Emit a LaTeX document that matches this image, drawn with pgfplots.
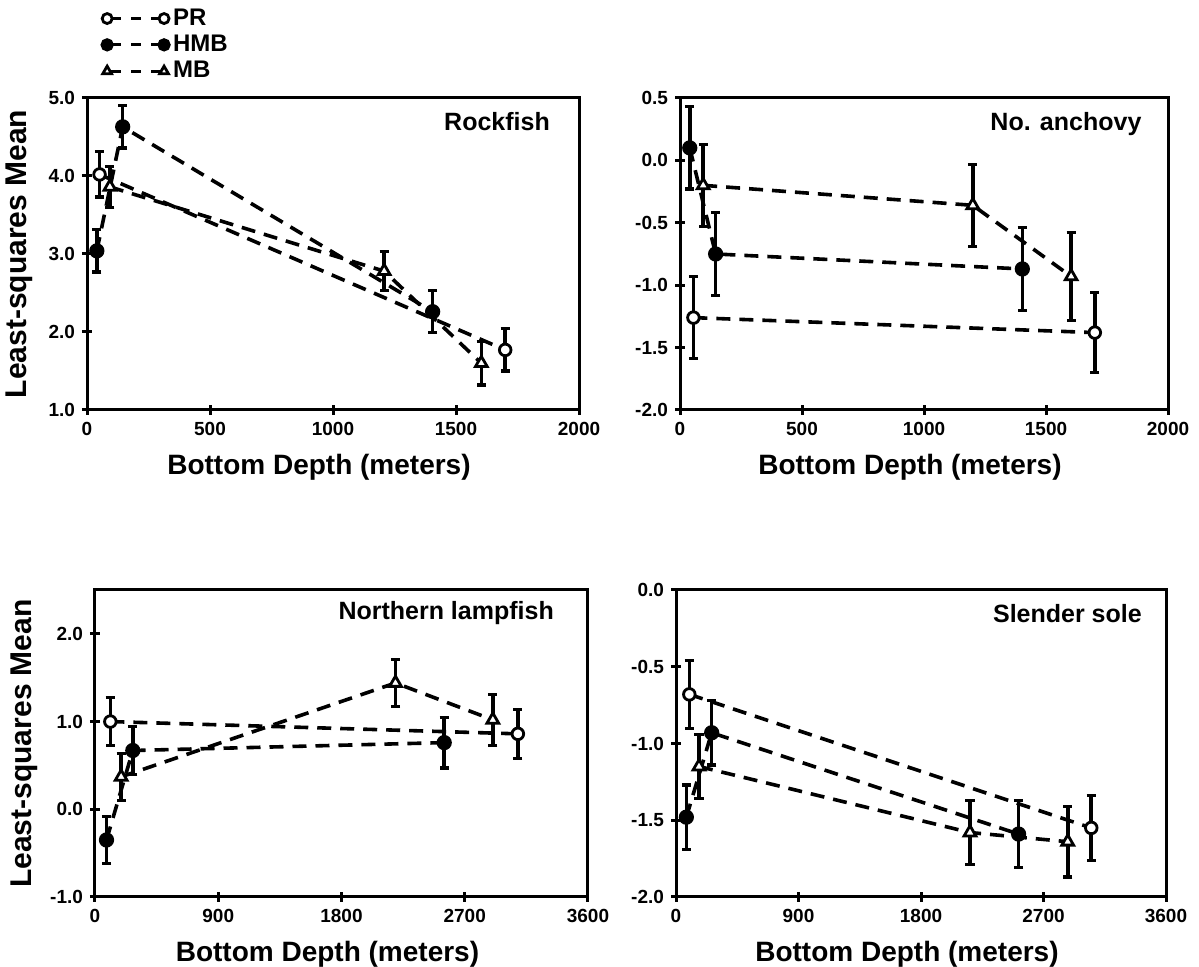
\documentclass[border=0pt]{standalone}
\usepackage{fontspec}
\setmainfont{Liberation Sans}
\usepackage{pgfplots}
\usepackage{pgfplotstable}
\pgfplotsset{compat=1.18}

% Rockfish
\pgfplotstableread{
x y e
51 4.02 0.29
1700 1.77 0.27
}\rfPR
\pgfplotstableread{
x y e
40 3.04 0.27
145 4.63 0.27
1405 2.26 0.27
}\rfHMB
\pgfplotstableread{
x y e
93 3.86 0.26
1208 2.78 0.25
1603 1.60 0.28
}\rfMB
% No. anchovy
\pgfplotstableread{
x y e
55 -1.26 0.33
1700 -1.38 0.32
}\naPR
\pgfplotstableread{
x y e
40 0.10 0.33
146 -0.75 0.33
1403 -0.87 0.33
}\naHMB
\pgfplotstableread{
x y e
95 -0.20 0.33
1200 -0.36 0.33
1603 -0.93 0.35
}\naMB
% Northern lampfish
\pgfplotstableread{
x y e
112 1.00 0.27
3088 0.86 0.28
}\nlPR
\pgfplotstableread{
x y e
84 -0.35 0.27
276 0.67 0.27
2550 0.76 0.29
}\nlHMB
\pgfplotstableread{
x y e
191 0.37 0.27
2194 1.44 0.27
2905 1.02 0.29
}\nlMB
% Slender sole
\pgfplotstableread{
x y e
98 -0.68 0.22
3051 -1.55 0.21
}\ssPR
\pgfplotstableread{
x y e
76 -1.48 0.21
262 -0.93 0.21
2517 -1.59 0.22
}\ssHMB
\pgfplotstableread{
x y e
169 -1.15 0.21
2160 -1.58 0.21
2878 -1.64 0.23
}\ssMB

\pgfplotsset{
  panel/.style={
    scale only axis, anchor=south west,
    axis line style={line width=1.5pt},
    xtick pos=bottom, ytick pos=left, tick align=center,
    major tick length=5pt,
    every tick/.style={line width=1.5pt, black},
    tick label style={font=\fontsize{9.5}{10}\bfseries},
    xlabel style={font=\fontsize{14}{16}\bfseries, yshift=-2.5pt, xshift=-7pt},
    ylabel style={font=\fontsize{15}{17}\bfseries,
      at={(axis description cs:-0.138,0.5)}, anchor=center},
    /pgf/number format/assume math mode=true,
    /pgf/number format/1000 sep={},
    yticklabel style={/pgf/number format/.cd, fixed, fixed zerofill, precision=1},
    xlabel={Bottom Depth (meters)},
  },
  ser/.style={black, line width=1.8pt, dash pattern=on 7pt off 4.5pt,
    mark options={solid, line width=1.4pt}, mark size=2.9pt},
  pr/.style={ser, mark=*, mark options={solid, fill=white, line width=1.4pt}},
  hmb/.style={ser, mark=*, mark options={solid, fill=black}},
  mb/.style={ser, mark=triangle*, mark size=3.4pt, mark options={solid, fill=white, line width=1.4pt}},
  eb/.style={black, solid, only marks, mark=none, forget plot,
    error bars/.cd, y dir=both, y explicit,
    error bar style={black, solid, line width=1.8pt},
    error mark=|, error mark options={black, solid, mark size=2.3pt, line width=1.6pt}},
}
\tikzset{ttl/.style={anchor=north east, font=\fontsize{12.5}{14}\bfseries}}

\newcommand{\series}[2]{%
  \addplot[eb] table[x=x, y=y, y error=e] {#1};
  \addplot[#2] table[x=x, y=y] {#1};
}

\begin{document}
\begin{tikzpicture}
\path[use as bounding box] (0,0) rectangle (599.5pt,483.5pt);

% Rockfish
\begin{axis}[panel, at={(43.5pt,278.5pt)}, width=246pt, height=156pt,
  xmin=0, xmax=2000, ymin=1, ymax=5,
  xtick={0,500,1000,1500,2000}, ytick={1,2,3,4,5},
  ylabel={Least-squares Mean},
  legend style={at={(rel axis cs:0.03,1.30)}, anchor=north west, draw=none, fill=none,
    font=\fontsize{12}{13}\bfseries, row sep=-0.6pt, inner sep=0pt,
    /tikz/every even column/.append style={column sep=4pt}},
  legend cell align=left,
  legend image code/.code={
    \draw[#1, line width=1.6pt, dash pattern=on 5pt off 5pt, dash phase=-2pt, mark size=2.5pt]
      plot coordinates {(0cm,0cm) (1.0cm,0cm)};
  },
]
\series{\rfPR}{pr}
\addlegendentry{PR}
\series{\rfHMB}{hmb}
\addlegendentry{HMB}
\series{\rfMB}{mb}
\addlegendentry{MB}
\node[ttl] at (rel axis cs:0.955,0.975) {Rockfish};
\end{axis}

% No. anchovy
\begin{axis}[panel, at={(340pt,278.5pt)}, width=244pt, height=156pt,
  xmin=0, xmax=2000, ymin=-2, ymax=0.5,
  xtick={0,500,1000,1500,2000}, ytick={-2,-1.5,-1,-0.5,0,0.5},
]
\series{\naPR}{pr}
\series{\naHMB}{hmb}
\series{\naMB}{mb}
\node[ttl] at (rel axis cs:0.96,0.975) {No. anchovy};
\end{axis}

% Northern lampfish
\begin{axis}[panel, at={(47.5pt,35pt)}, width=246.5pt, height=153.5pt,
  xmin=0, xmax=3600, ymin=-1, ymax=2.5,
  xtick={0,900,1800,2700,3600}, ytick={-1,0,1,2},
  ylabel={Least-squares Mean},
  ylabel style={at={(axis description cs:-0.143,0.5)}},
]
\series{\nlPR}{pr}
\series{\nlHMB}{hmb}
\series{\nlMB}{mb}
\node[ttl] at (rel axis cs:0.945,0.985) {Northern lampfish};
\end{axis}

% Slender sole
\begin{axis}[panel, at={(338pt,35pt)}, width=245pt, height=153.5pt,
  xmin=0, xmax=3600, ymin=-2, ymax=0,
  xtick={0,900,1800,2700,3600}, ytick={-2,-1.5,-1,-0.5,0},
]
\series{\ssPR}{pr}
\series{\ssHMB}{hmb}
\series{\ssMB}{mb}
\node[ttl] at (rel axis cs:0.965,0.975) {Slender sole};
\end{axis}
\end{tikzpicture}
\end{document}
